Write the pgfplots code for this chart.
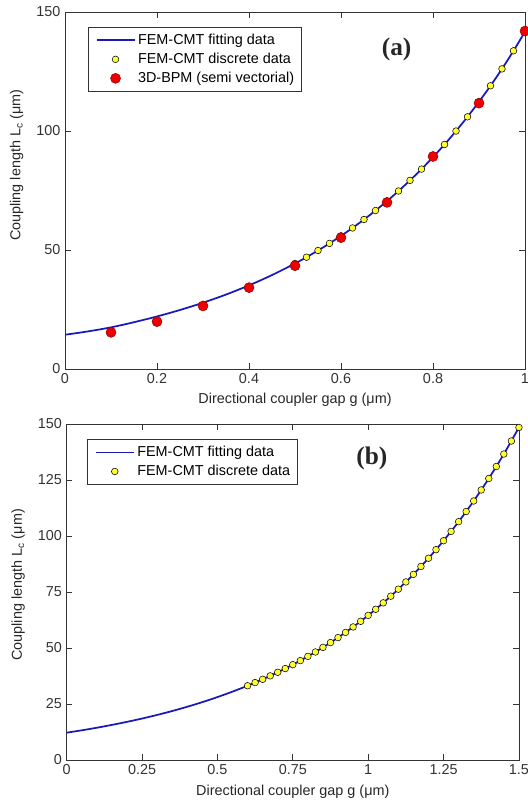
\documentclass[border=0pt]{standalone}
\usepackage{fontspec}
\setmainfont{Liberation Sans}
\newfontfamily\timesfont{Liberation Serif}
\usepackage{pgfplots}
\pgfplotsset{compat=1.18}

\definecolor{fitblue}{rgb}{0.1,0.1,0.72}
\definecolor{bpmred}{rgb}{0.93,0.0,0.0}
\definecolor{femyellow}{rgb}{1,1,0.2}

\pgfplotsset{
  coupler/.style={
    scale only axis,
    axis line style={black!80, line width=0.6pt},
    every tick/.style={black!80, line width=0.5pt},
    tick label style={black!80},
    /pgf/number format/assume math mode=true,
    label style={black!85},
    legend cell align=left,
    legend style={draw=black!80, line width=0.5pt, inner xsep=5.5pt, inner ysep=4.5pt,
      row sep=3.75pt, column sep=2pt,
      nodes={inner sep=0pt, text height=8pt, text depth=2.5pt}},
    legend image code/.code={\draw[mark repeat=2,mark phase=2,##1]
      plot coordinates {(0pt,0pt) (14.25pt,0pt) (28.5pt,0pt)};},
  },
  fitline/.style={fitblue, line width=1.3pt, smooth, no markers},
  femmarks/.style={only marks, mark=*, mark size=2.5pt,
    mark options={fill=femyellow, draw=black, line width=0.4pt}},
  bpmmarks/.style={only marks, mark=*, mark size=3.75pt,
    mark options={fill=bpmred, draw=red!60!black, line width=0.4pt}},
}

\begin{document}
\begin{tikzpicture}[font=\fontsize{10.8}{13}\selectfont]

% ---- (a) ----
\begin{axis}[coupler,
  at={(48.75pt,-9pt)}, anchor=north west,
  width=345pt, height=267.75pt,
  xmin=0, xmax=1, ymin=0, ymax=150,
  xtick={0,0.2,0.4,0.6,0.8,1}, xticklabels={0,0.2,0.4,0.6,0.8,1},
  ytick={0,50,100,150},
  xlabel={Directional coupler gap g (μm)},
  ylabel={Coupling length L\textsubscript{c} (μm)},
  xlabel style={at={(axis description cs:0.5,-0.087)}, anchor=center},
  ylabel style={at={(axis description cs:-0.105,0.571)}, anchor=center},
  legend style={at={(axis description cs:0.05,0.958)}, anchor=north west},
]
\addplot[fitline] coordinates {
  (0,14.4) (0.05,15.8) (0.1,17.5) (0.15,19.66) (0.2,22.08) (0.25,24.8)
  (0.3,27.85) (0.35,31.28) (0.4,35.14) (0.45,39.47) (0.5,44.33)
  (0.525,46.98) (0.55,49.79) (0.575,52.77) (0.6,55.93) (0.625,59.27)
  (0.65,62.82) (0.675,66.58) (0.7,70.56) (0.725,74.78) (0.75,79.25)
  (0.775,83.99) (0.8,89.01) (0.825,94.33) (0.85,99.98) (0.875,105.96)
  (0.9,112.3) (0.925,119.0) (0.95,126.1) (0.975,133.7) (1.0,141.7)
};
\addplot[femmarks] coordinates {
  (0.5,44.33) (0.525,46.98) (0.55,49.79) (0.575,52.77) (0.6,55.93)
  (0.625,59.27) (0.65,62.82) (0.675,66.58) (0.7,70.56) (0.725,74.78)
  (0.75,79.25) (0.775,83.99) (0.8,89.01) (0.825,94.33) (0.85,99.98)
  (0.875,105.96) (0.9,112.3) (0.925,119.0) (0.95,126.1) (0.975,133.7)
  (1.0,141.7)
};
\addplot[bpmmarks] coordinates {
  (0.1,15.4) (0.2,19.9) (0.3,26.5) (0.4,34.2) (0.5,43.4)
  (0.6,55.2) (0.7,70.0) (0.8,89.3) (0.9,111.7) (1.0,142.0)
};
\legend{FEM-CMT fitting data, FEM-CMT discrete data, 3D-BPM (semi vectorial)}
\node[font={\timesfont\bfseries\fontsize{19}{22}\selectfont}, text=black!85]
  at (axis cs:0.721,134.3) {(a)};
\end{axis}

% ---- (b) ----
\begin{axis}[coupler,
  at={(50pt,-318pt)}, anchor=north west,
  width=339.2pt, height=252pt,
  xmin=0, xmax=1.5, ymin=0, ymax=150,
  xtick={0,0.25,0.5,0.75,1,1.25,1.5},
  xticklabels={0,0.25,0.5,0.75,1,1.25,1.5},
  ytick={0,25,50,75,100,125,150},
  xlabel={Directional coupler gap g (μm)},
  ylabel={Coupling length L\textsubscript{c} (μm)},
  xlabel style={at={(axis description cs:0.5,-0.095)}, anchor=center},
  ylabel style={at={(axis description cs:-0.107,0.521)}, anchor=center},
  legend style={at={(axis description cs:0.0455,0.955)}, anchor=north west},
]
\addplot[fitline] coordinates {
  (0,12.2) (0.05,13.26) (0.1,14.41) (0.15,15.67) (0.2,17.03) (0.25,18.51)
  (0.3,20.12) (0.35,21.87) (0.4,23.77) (0.45,25.84) (0.5,28.09) (0.55,30.53)
  (0.6,33.15) (0.65,36.03) (0.7,39.16) (0.75,42.56) (0.8,46.26) (0.85,50.28)
  (0.9,54.65) (0.95,59.40) (1.0,64.56) (1.05,70.16) (1.1,76.26) (1.15,82.88)
  (1.2,90.08) (1.25,97.90) (1.3,106.40) (1.35,115.64) (1.4,125.69)
  (1.45,136.60) (1.5,148.46)
};
\addplot[femmarks] coordinates {
  (0.6,33.15) (0.625,34.56) (0.65,36.03) (0.675,37.56) (0.7,39.16)
  (0.725,40.83) (0.75,42.56) (0.775,44.37) (0.8,46.26) (0.825,48.23)
  (0.85,50.28) (0.875,52.42) (0.9,54.65) (0.925,56.97) (0.95,59.40)
  (0.975,61.92) (1.0,64.56) (1.025,67.30) (1.05,70.16) (1.075,73.15)
  (1.1,76.26) (1.125,79.50) (1.15,82.88) (1.175,86.41) (1.2,90.08)
  (1.225,93.91) (1.25,97.90) (1.275,102.06) (1.3,106.40) (1.325,110.93)
  (1.35,115.64) (1.375,120.56) (1.4,125.69) (1.425,131.03) (1.45,136.60)
  (1.475,142.41) (1.5,148.46)
};
\legend{FEM-CMT fitting data, FEM-CMT discrete data}
\node[font={\timesfont\bfseries\fontsize{19}{22}\selectfont}, text=black!85]
  at (axis cs:1.012,134.8) {(b)};
\end{axis}

\pgfresetboundingbox
\useasboundingbox (0pt,0pt) rectangle (396pt,-600pt);
\end{tikzpicture}
\end{document}
